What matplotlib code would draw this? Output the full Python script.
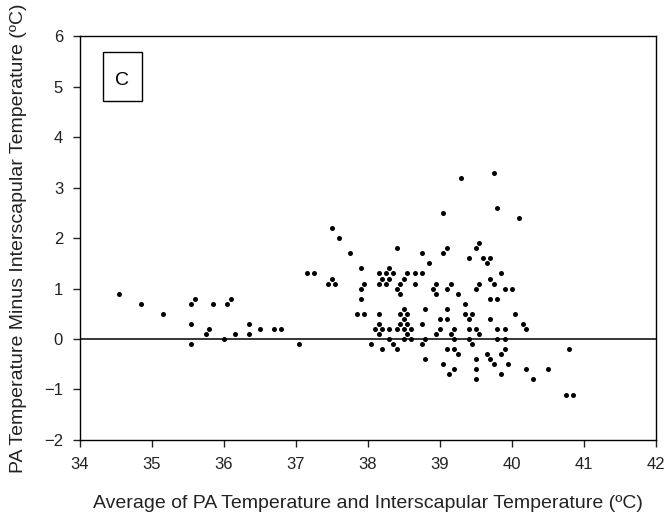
import matplotlib
matplotlib.use("Agg")
import matplotlib.pyplot as plt
from matplotlib.patches import Rectangle

plt.rcParams['font.family'] = ['Liberation Sans', 'DejaVu Sans']

# average temperature (x) and difference PA - interscapular (y)
avg_temp = [
    34.55, 34.85, 35.15, 35.55, 35.60, 35.55, 35.55, 35.75, 35.80, 35.85,
    36.00, 36.05, 36.10, 36.15, 36.35, 36.35, 36.50, 36.70, 36.80, 37.05,
    37.15, 37.25, 37.45,
    39.05, 37.50, 37.60, 37.75, 38.40, 38.75, 39.05, 39.10, 38.85, 37.50,
    37.55, 37.90, 37.95, 37.90, 37.90, 38.15, 38.25, 38.30, 38.35, 38.20,
    38.30, 38.15, 38.25, 38.40, 38.45, 38.45, 38.50, 38.55, 38.65, 38.75,
    38.65, 38.90, 38.95, 38.95, 39.10, 37.85, 37.95, 38.15, 38.50, 38.45,
    38.55, 38.50, 38.45, 38.55, 38.15, 38.80, 38.75, 39.10, 39.00, 39.10,
    38.10, 38.20, 38.30, 38.40, 38.50, 38.60, 39.00, 38.15, 38.55, 38.95,
    38.30, 38.50, 38.60, 38.80, 38.05, 38.75, 38.35, 38.20, 38.40, 39.10,
    38.80, 39.05, 39.13,
    39.75, 39.30, 39.80, 40.10, 39.55, 39.50, 39.40, 39.60, 39.70, 39.65,
    39.85, 39.70, 39.15, 39.55, 39.75, 39.50, 39.90, 40.00, 39.25, 39.70,
    39.80, 39.35, 39.35, 39.45, 40.05, 39.40, 39.70, 40.15, 40.20, 39.20,
    39.40, 39.50, 39.80, 39.90, 39.15, 39.55, 39.20, 39.40, 39.80, 39.90,
    39.45, 39.20, 39.90, 40.80, 39.25, 39.65, 39.85, 39.50, 39.70, 39.75,
    39.95, 39.20, 39.50, 40.20, 40.50, 39.85, 39.50, 40.30, 40.75, 40.85,
]
temp_diff = [
    0.9, 0.7, 0.5, 0.7, 0.8, 0.3, -0.1, 0.1, 0.2, 0.7,
    0.0, 0.7, 0.8, 0.1, 0.3, 0.1, 0.2, 0.2, 0.2, -0.1,
    1.3, 1.3, 1.1,
    2.5, 2.2, 2.0, 1.7, 1.8, 1.7, 1.7, 1.8, 1.5, 1.2,
    1.1, 1.4, 1.1, 1.0, 0.8, 1.3, 1.3, 1.4, 1.3, 1.2,
    1.2, 1.1, 1.1, 1.0, 1.1, 0.9, 1.2, 1.3, 1.3, 1.3,
    1.1, 1.0, 1.1, 0.9, 1.0, 0.5, 0.5, 0.5, 0.6, 0.5,
    0.5, 0.4, 0.3, 0.3, 0.3, 0.6, 0.3, 0.6, 0.4, 0.4,
    0.2, 0.2, 0.2, 0.2, 0.2, 0.2, 0.2, 0.1, 0.1, 0.1,
    0.0, 0.0, 0.0, 0.0, -0.1, -0.1, -0.1, -0.2, -0.2, -0.2,
    -0.4, -0.5, -0.7,
    3.3, 3.2, 2.6, 2.4, 1.9, 1.8, 1.6, 1.6, 1.6, 1.5,
    1.3, 1.2, 1.1, 1.1, 1.1, 1.0, 1.0, 1.0, 0.9, 0.8,
    0.8, 0.7, 0.5, 0.5, 0.5, 0.4, 0.4, 0.3, 0.2, 0.2,
    0.2, 0.2, 0.2, 0.2, 0.1, 0.1, 0.0, 0.0, 0.0, 0.0,
    -0.1, -0.2, -0.2, -0.2, -0.3, -0.3, -0.3, -0.4, -0.4, -0.5,
    -0.5, -0.6, -0.6, -0.6, -0.6, -0.7, -0.8, -0.8, -1.1, -1.1,
]
x_ticks = [34, 35, 36, 37, 38, 39, 40, 41, 42]
y_ticks = [-2, -1, 0, 1, 2, 3, 4, 5, 6]

fig = plt.figure(figsize=(6.7, 5.2), dpi=100)
ax = fig.add_axes([0.119, 0.154, 0.860, 0.776])

ax.axhline(0, color='black', linewidth=1.1, zorder=1)
ax.plot(avg_temp, temp_diff, 'o', color='black', markersize=3.6,
        markeredgewidth=0, zorder=2)

ax.set_xlim(34, 42)
ax.set_ylim(-2, 6)
ax.set_xticks(x_ticks)
ax.set_yticks(y_ticks)
ax.tick_params(direction='out', length=5, width=1, labelsize=12,
               colors='#222222')
ax.tick_params(axis='y', pad=7)
ax.tick_params(axis='x', pad=7)
for sp in ax.spines.values():
    sp.set_linewidth(1)

ax.set_xlabel('Average of PA Temperature and Interscapular Temperature (ºC)',
              fontsize=14, color='#222222', labelpad=17)
ax.set_ylabel('PA Temperature Minus Interscapular Temperature (ºC)',
              fontsize=14, color='#222222', labelpad=12)

# panel letter box
ax.add_patch(Rectangle((0.0405, 0.8406), 0.068, 0.1207, transform=ax.transAxes,
                       fill=False, edgecolor='black', linewidth=1))
ax.text(0.0734, 0.891, 'C', transform=ax.transAxes, ha='center', va='center',
        fontsize=14, color='black')

fig.savefig('out.png', dpi=100)
